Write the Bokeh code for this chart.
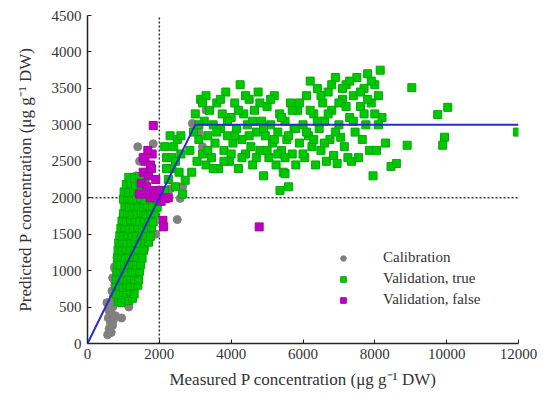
from bokeh.plotting import figure
from bokeh.models import Legend, LegendItem, Range1d, FixedTicker
from bokeh.embed import file_html
from bokeh.resources import INLINE

# ---------------- data ----------------
calib_x = [560, 600, 640, 580, 650, 700, 620, 720, 680, 760, 730, 800, 760, 850, 820, 900, 880, 950,
           1000, 980, 1050, 1100, 1080, 1150, 1200, 1250, 1180, 1300, 1350, 1250, 1830, 1650, 1600, 1500,
           1450, 1700, 1550, 1350, 1200, 1800, 2000, 2580, 2500, 1900, 2920, 3100, 3200, 3050, 3300,
           1150, 950, 1000, 1300, 1600, 1450, 700, 780, 860, 1750, 1650, 2300, 2650, 1400,
           600, 660, 720, 540, 700, 750]
calib_y = [120, 200, 280, 350, 420, 500, 560, 640, 720, 800, 880, 950, 1030, 1100, 1180, 1250, 1330, 1400,
           1480, 1550, 1620, 1700, 1780, 1850, 1930, 2000, 2100, 2200, 2300, 2260, 2740, 2050, 1300, 1200,
           1100, 1600, 1500, 900, 800, 1900, 1950, 1990, 1700, 1500, 3020, 2900, 2700, 2500, 3200,
           500, 350, 700, 1700, 2200, 2500, 250, 380, 600, 1450, 1750, 2120, 2150, 2700,
           450, 150, 320, 560, 900, 1050]

true_x = [850, 950, 1050, 1150, 1250,
          800, 900, 1000, 1100, 1200, 1300,
          790, 890, 990, 1090, 1190, 1300, 1400,
          800, 900, 1000, 1100, 1200, 1310, 1420,
          820, 920, 1020, 1120, 1230, 1340, 1450,
          830, 930, 1030, 1140, 1250, 1360, 1480,
          840, 940, 1050, 1160, 1270, 1390, 1520,
          850, 960, 1070, 1180, 1300, 1420, 1560,
          870, 980, 1090, 1210, 1330, 1460, 1600, 1700,
          900, 1010, 1120, 1240, 1360, 1490, 1630, 1750,
          930, 1040, 1160, 1280, 1400, 1530, 1660, 1780,
          960, 1080, 1200, 1320, 1450, 1580, 1710, 1830,
          1000, 1120, 1240, 1370, 1500, 1630, 1760, 1880,
          1040, 1160, 1290, 1420, 1550, 1680, 1810, 1940,
          1000, 1120, 1240, 1360, 1480, 1600, 1740, 1870,
          1020, 1150, 1280, 1410, 1540, 1680,
          1080, 1210, 1340, 1470, 1600,
          1150, 1300, 1450,
          2150, 2250, 2350, 2200, 2400, 2300, 2500, 2600, 2550, 2450, 2720, 2650, 2150, 2350, 2200, 2600, 2450,
          2850, 2900, 2950, 3000, 3050, 3100, 3150, 3200, 3250, 3300, 3300, 3350, 3400, 3450, 3500, 3550,
          3600, 3650, 3700, 3750, 3800, 3850, 3900, 3950, 4000, 4050, 4100, 4150, 4200, 4250, 4300, 4350,
          4400, 4450, 4500, 4550, 4600, 4650, 4700, 4750, 4800, 4850, 4900, 4950, 5000, 5050, 5100, 5150,
          5200, 5250, 5300, 5350, 5400, 5450, 5500, 5550, 5600, 5650, 5700, 5750, 5800, 5850, 5900, 6000,
          6050, 6100, 6150, 6200, 6250, 6300, 6350, 6400, 6450, 6500, 6550, 6600, 6650, 6700, 6750, 6800,
          6850, 6900, 6950, 7000, 7050, 7100, 7150, 7200, 7250, 7300, 7350, 7400, 7450, 7500, 7550, 7600,
          7650, 7700, 7750, 7800, 7850, 7900, 7950, 8000, 8050, 8100, 8150, 8200, 8300, 8450, 8600, 8900,
          9030, 9750, 10030, 9940, 9890, 11970,
          3100, 3200, 3350, 3500, 3600, 3700, 3800, 3900, 4000, 4100, 4200, 4300, 4400, 4500, 4600, 4700,
          4800, 4900, 5000, 5100, 5200, 5300, 5400, 5500, 5600, 5700, 5800, 5900, 6000, 6100, 6200, 6300,
          6400, 6500, 6600, 6700, 6800, 6900, 7000, 7100, 7200, 7300, 7400, 7600, 7700, 7800, 7900, 8000,
          8100, 5360, 5500]
true_y = [580, 560, 600, 590, 620,
          680, 670, 700, 690, 710, 680,
          780, 790, 770, 800, 780, 790, 800,
          880, 870, 890, 880, 900, 880, 870,
          980, 990, 970, 990, 980, 970, 990,
          1080, 1070, 1090, 1080, 1090, 1070, 1080,
          1180, 1190, 1170, 1180, 1190, 1180, 1170,
          1280, 1270, 1290, 1280, 1270, 1290, 1280,
          1380, 1390, 1370, 1380, 1390, 1370, 1380, 1390,
          1480, 1470, 1490, 1480, 1470, 1490, 1480, 1470,
          1580, 1590, 1570, 1580, 1590, 1570, 1580, 1590,
          1680, 1670, 1690, 1680, 1670, 1690, 1680, 1670,
          1780, 1790, 1770, 1780, 1790, 1770, 1780, 1790,
          1880, 1870, 1890, 1880, 1870, 1890, 1880, 1870,
          1980, 1990, 1970, 1980, 1990, 1970, 1980, 1990,
          2080, 2070, 2090, 2080, 2070, 2090,
          2180, 2190, 2170, 2180, 2190,
          2280, 2270, 2290,
          2100, 2250, 2400, 2550, 2700, 2850, 2800, 2600, 2350, 2150, 2240, 2050, 2700, 2550, 2400, 2850, 2500,
          2650, 2350, 2900, 3150, 2500, 2800, 3350, 2600, 3050, 2450, 3400, 2850, 3200, 2550, 3000, 2750,
          3300, 2400, 2950, 3150, 2650, 3450, 2850, 2500, 3100, 2750, 3300, 2950, 2400, 3550, 2800, 3150,
          2600, 3000, 3350, 2700, 2450, 3200, 2900, 3450, 2650, 3050, 2300, 2850, 3250, 2550, 3000, 2750,
          3400, 2450, 2900, 3150, 2650, 2350, 3050, 2800, 2150, 3300, 2600, 2950, 2450, 3200, 2750, 3000,
          2550, 3400, 2850, 3600, 2700, 3150, 2450, 3500, 2950, 2650, 3300, 3050, 2500, 3450, 2800, 3200,
          2580, 3650, 2470, 3000, 2830, 3350, 2700, 3550, 2550, 3100, 2500, 3400, 2900, 3650, 2550, 3250,
          2800, 3500, 3000, 3700, 2650, 3300, 2300, 3550, 2650, 3400, 3750, 3100, 2750, 2430, 2470, 2720,
          3510, 3140, 3240, 2830, 2720, 2900,
          3000, 3300, 2650, 2400, 2900, 3350, 2500, 3050, 2600, 2850, 3200, 2550, 3400, 2850, 3050, 2550,
          3300, 2950, 2650, 3350, 2800, 2600, 3100, 2550, 2850, 3200, 2950, 3300, 2600, 2900, 3200, 2800,
          3050, 3400, 2750, 3150, 3550, 2900, 3300, 3500, 3250, 3600, 3050, 3450, 3150, 3350, 3600, 3150,
          3000, 2100, 2330]

false_x = [1830, 1450, 1500, 1550, 1600, 1650, 1700, 1750, 1800, 1850, 1900, 1950, 1750, 1620, 2100,
           2120, 2170, 2250, 2050, 4780, 1550, 1900, 2000, 1680, 1780]
false_y = [2990, 2050, 2200, 2350, 2500, 2150, 2300, 2450, 2600, 2100, 2250, 2050, 2000, 2050, 1690,
           1600, 1990, 2000, 1950, 1600, 2550, 2000, 2100, 2650, 2400]

fit_x = [0, 3000, 12000]
fit_y = [0, 3000, 3000]
thr_x = [2000, 2000]
thr_y = [0, 4500]
thr2_x = [0, 12000]
thr2_y = [2000, 2000]

x_ticks = [0, 2000, 4000, 6000, 8000, 10000, 12000]
y_ticks = [0, 500, 1000, 1500, 2000, 2500, 3000, 3500, 4000, 4500]

# ---------------- figure ----------------
FONT = "Liberation Serif"
p = figure(width=543, height=398, output_backend="svg", toolbar_location=None,
           x_range=Range1d(0, 12000), y_range=Range1d(0, 4500),
           min_border_left=87, min_border_right=25, min_border_top=15, min_border_bottom=55)
p.outline_line_color = None
p.grid.visible = False
p.background_fill_color = "white"

p.line(thr_x, thr_y, line_color="#333333", line_width=1.5, line_dash="2 2")
p.line(thr2_x, thr2_y, line_color="#333333", line_width=1.5, line_dash="2 2")

r_cal = p.scatter(calib_x, calib_y, marker="circle", size=8, fill_color="#808080", line_color="#808080")
r_true = p.scatter(true_x, true_y, marker="square", size=8, fill_color="#00c800", line_color="#00a800")
r_false = p.scatter(false_x, false_y, marker="square", size=8, fill_color="#c000c0", line_color="#a800a8")

p.line(fit_x, fit_y, line_color="#2a2ad0", line_width=2)

for ax in (p.xaxis[0], p.yaxis[0]):
    ax.major_tick_in = 4
    ax.major_tick_out = 0
    ax.minor_tick_line_color = None
    ax.axis_line_color = "#222222"
    ax.axis_line_width = 1.5
    ax.major_tick_line_color = "#222222"
    ax.major_label_text_font = FONT
    ax.major_label_text_font_size = "15px"
    ax.major_label_text_color = "#333333"
    ax.axis_label_text_font = FONT
    ax.axis_label_text_font_size = "17px"
    ax.axis_label_text_font_style = "normal"
    ax.axis_label_text_color = "#333333"

p.xaxis.ticker = FixedTicker(ticks=x_ticks)
p.yaxis.ticker = FixedTicker(ticks=y_ticks)
p.xaxis.axis_label = "Measured P concentration (μg g⁻¹ DW)"
p.yaxis.axis_label = "Predicted P concentration (μg g⁻¹ DW)"
p.xaxis.major_label_standoff = 5
p.yaxis.major_label_standoff = 6
p.yaxis.axis_label_standoff = 14
p.xaxis.axis_label_standoff = 8

legend = Legend(items=[LegendItem(label="Calibration", renderers=[r_cal]),
                       LegendItem(label="Validation, true", renderers=[r_true]),
                       LegendItem(label="Validation, false", renderers=[r_false])],
                location=(249, 35), padding=0, margin=0, spacing=4,
                glyph_width=14, glyph_height=14, label_height=14, label_standoff=33,
                border_line_alpha=0, background_fill_alpha=0,
                label_text_font=FONT, label_text_font_size="15px", label_text_color="#333333")
p.add_layout(legend, "center")

open("out.html", "w").write(file_html(p, INLINE))
